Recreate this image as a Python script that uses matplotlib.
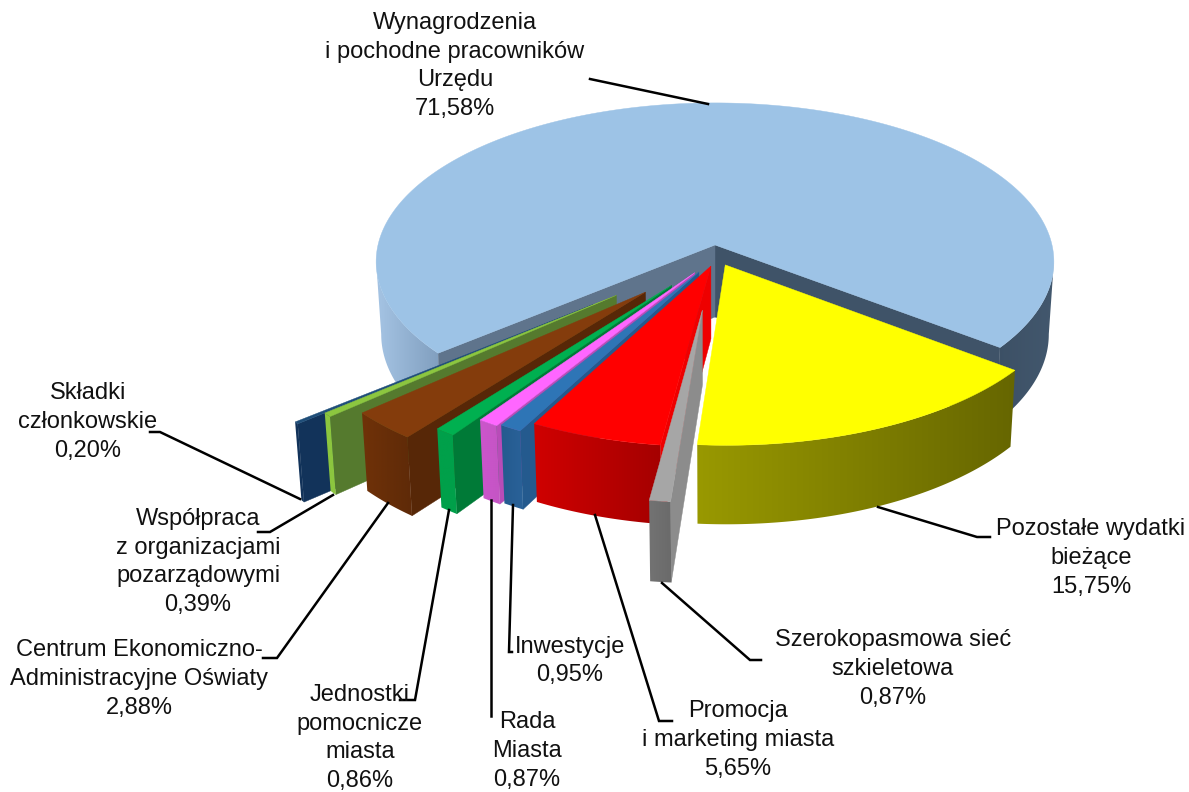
import numpy as np
import matplotlib
matplotlib.use("Agg")
import matplotlib.pyplot as plt
from matplotlib.colors import to_rgb
from matplotlib.patches import Polygon

plt.rcParams['font.family'] = ['Liberation Sans', 'DejaVu Sans']

# ---- data ----
categories = [
    "Wynagrodzenia\ni pochodne pracowników\nUrzędu",
    "Pozostałe wydatki\nbieżące",
    "Szerokopasmowa sieć\nszkieletowa",
    "Promocja\ni marketing miasta",
    "Inwestycje",
    "Rada\nMiasta",
    "Jednostki\npomocnicze\nmiasta",
    "Centrum Ekonomiczno-\nAdministracyjne Oświaty",
    "Współpraca\nz organizacjami\npozarządowymi",
    "Składki\nczłonkowskie",
]
values = [71.58, 15.75, 0.87, 5.65, 0.95, 0.87, 0.86, 2.88, 0.39, 0.20]

# ---- style ----
top_colors = ["#9DC3E6", "#FFFF00", "#A6A6A6", "#FF0000", "#2E75B6", "#FF66FF",
              "#00B050", "#843C0C", "#8CC63F", "#1F4E79"]
rim_colors = [None, ("#999900", "#666600"), ("#737373", "#6A6A6A"), ("#D00000", "#A40000"),
              ("#245A8E", "#2A6299"), ("#CC55CC", "#C455C4"), ("#00A04A", "#00A04A"),
              ("#703208", "#5E2A08"), ("#8CC63F", "#8CC63F"), ("#12335A", "#12335A")]
wall_colors = [None, None, "#8C8C8C", "#EE0000", "#245A8E", "#B84CB8", "#007A37",
               "#572707", "#557A2E", "#12335A"]
explode = [(0, 0), (0.03, -0.125), (-0.036, -0.398), (-0.012, -0.1325), (-0.047, -0.169),
           (-0.059, -0.173), (-0.125, -0.25), (-0.2, -0.291), (-0.283, -0.31), (-0.348, -0.365)]

label_pos = [(455, 66), (1091, 558), (893, 669), (738, 740), (570, 661), (527, 751),
             (360, 738), (139, 679), (198, 562), (88, 422)]
leaders = [
    [(590, 79), (708, 104)],
    [(878, 507), (977, 537), (990, 537)],
    [(662, 583), (750, 660), (761, 660)],
    [(595, 515), (659, 721), (672, 721)],
    [(513, 505), (509, 652), (512, 652)],
    [(491, 500), (491, 716)],
    [(449, 510), (415, 700), (400, 700)],
    [(388, 503), (277, 658), (263, 658)],
    [(333, 495), (270, 532), (258, 532)],
    [(300, 499), (160, 432), (150, 432)],
]

CX, CY = 715.0, 245.0
A, B, K = 337.0, 157.0, 0.105
DEPTH = 72.0
START = 220.0
RIM_LEFT, RIM_RIGHT = 186.0, -6.0


def project(u, v):
    d = 1 + K * v
    return CX + A * u / d, CY - B * v / d


def drop(x, y, v):
    h = DEPTH / (1 + 0.75 * K * v)
    return CX + (x - CX) * 0.985, y + h


def slice_points(a0, a1, off, n=120):
    t = np.radians(np.linspace(a0, a1, n))
    return np.cos(t) + off[0], np.sin(t) + off[1]


fig = plt.figure(figsize=(11.89, 7.92), dpi=100)
ax = fig.add_axes([0, 0, 1, 1])


def rim(a0, a1, off, c0, c1, z, n=200):
    # a0 is the left end of the arc, a1 the right one; the shade runs left to right
    u, v = slice_points(a0, a1, off, n)
    x, y = project(u, v)
    bx, by = drop(x, y, v)
    outline = np.column_stack([np.r_[x, bx[::-1]], np.r_[y, by[::-1]]])
    shape = Polygon(outline, closed=True, fc="none", ec="none", zorder=z)
    ax.add_patch(shape)
    c0, c1 = np.array(to_rgb(c0)), np.array(to_rgb(c1))
    grad = np.linspace(0, 1, 256)[None, :, None] * (c1 - c0) + c0
    im = ax.imshow(grad, extent=[outline[:, 0].min() - 1, outline[:, 0].max() + 1,
                                 outline[:, 1].max() + 1, outline[:, 1].min() - 1],
                   aspect="auto", interpolation="bilinear", zorder=z)
    im.set_clip_path(shape)


def wall(angle, off, color, z):
    u = np.array([off[0], off[0] + np.cos(np.radians(angle))])
    v = np.array([off[1], off[1] + np.sin(np.radians(angle))])
    x, y = project(u, v)
    bx, by = drop(x, y, v)
    ax.add_patch(Polygon([(x[0], y[0]), (x[1], y[1]), (bx[1], by[1]), (bx[0], by[0])],
                         closed=True, fc=color, ec=color, lw=0.3, zorder=z))


def top(a0, a1, off, color, z):
    u, v = slice_points(a0, a1, off, 400)
    x, y = project(u, v)
    ax0, ay0 = project(off[0], off[1])
    pts = [(ax0, ay0)] + list(zip(x, y))
    ax.add_patch(Polygon(pts, closed=True, fc=color, ec=color, lw=0.3, zorder=z))


# angles run clockwise from START, each slice a share of the full circle
sweeps = np.array(values) / np.sum(values) * 360.0
ends = START - np.cumsum(sweeps)
starts = ends + sweeps

# main slice: outer rim on both visible sides, inner walls, top
rim(RIM_LEFT, starts[0], explode[0], "#A6C5E5", "#7E9CBC", 1)
rim(ends[0], RIM_RIGHT, explode[0], "#3C5065", "#43586E", 1)
wall(ends[0], explode[0], "#3F5368", 2)
wall(starts[0], explode[0], "#5F748C", 2)
top(starts[0], ends[0], explode[0], top_colors[0], 3)

# exploded slices, painted from the far left towards the right
z = 4
for i in list(range(len(values) - 1, 2, -1)) + [1, 2]:
    a0, a1 = starts[i], ends[i]
    if wall_colors[i]:
        wall(a0, explode[i], wall_colors[i], z)
    rim(a1, a0, explode[i], rim_colors[i][0], rim_colors[i][1], z + 0.1)
    top(a0, a1, explode[i], top_colors[i], z + 0.2)
    z += 1

# leader lines
for pts in leaders:
    xs, ys = zip(*pts)
    ax.plot(xs, ys, color="black", lw=1.8, solid_joinstyle="miter", zorder=30)

# labels
for name, val, (x, y) in zip(categories, values, label_pos):
    txt = name + "\n" + f"{val:.2f}".replace(".", ",") + "%"
    ax.text(x, y, txt, ha="center", va="center", fontsize=17, color="#111111",
            linespacing=1.4, zorder=40)

ax.set_xlim(0, 1189)
ax.set_ylim(792, 0)
ax.axis("off")
fig.savefig("out.png", dpi=100)
